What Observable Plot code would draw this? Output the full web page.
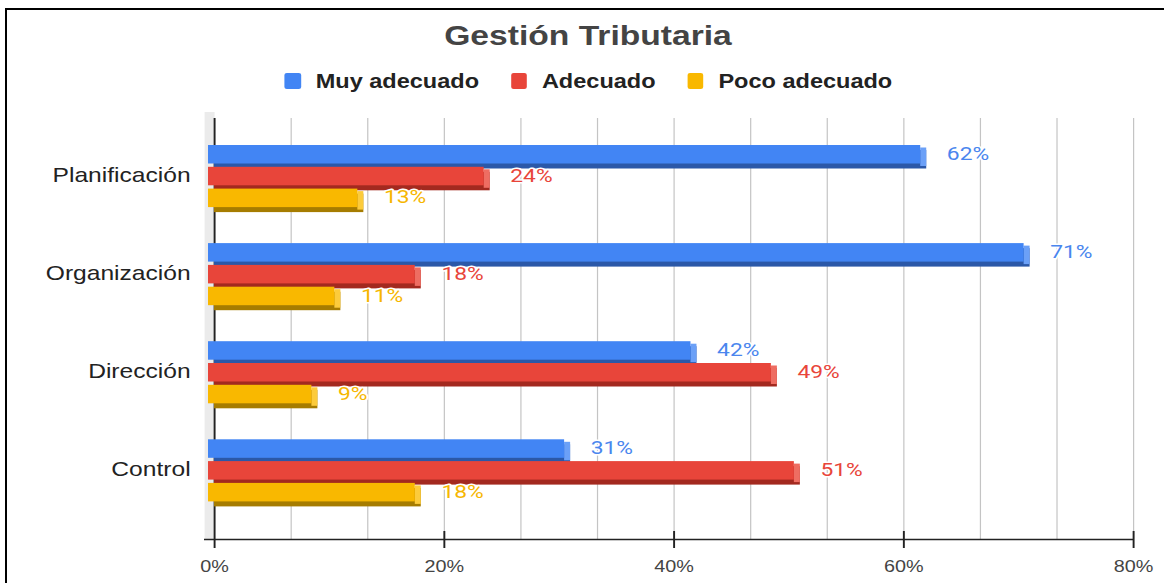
<!DOCTYPE html>
<html>
<head>
<meta charset="utf-8">
<script src="https://cdn.jsdelivr.net/npm/d3@7"></script>
<script src="https://cdn.jsdelivr.net/npm/@observablehq/plot@0.6"></script>
<style>
  html, body { margin: 0; padding: 0; background: #fff; }
  body { width: 1164px; height: 583px; overflow: hidden; position: relative; font-family: "Liberation Sans", Arial, sans-serif; }
  #frame { position: absolute; left: 5px; top: 8px; right: -10px; bottom: -10px; border-top: 2.5px solid #000; border-left: 2.5px solid #000; }
  #chart { position: absolute; left: 0; top: 0; width: 970px; height: 583px; transform: scaleX(1.2); transform-origin: 0 0; }
  #title { position: absolute; top: 22px; left: 5px; width: 100%; text-align: center; font-weight: bold; font-size: 28px; line-height: 28px; color: #444; }
  #legend { position: absolute; top: 71px; left: 5.4px; width: 100%; height: 20px; display: flex; justify-content: center; align-items: center; font-weight: bold; font-size: 19.6px; line-height: 20px; color: #222; }
  .item { display: flex; align-items: center; margin: 0 13.3px; }
  .sw { width: 13.3px; height: 16px; border-radius: 2px; margin-right: 12.5px; }
  #plot { position: absolute; top: 100px; left: 0; }
</style>
</head>
<body>
<div id="frame"></div>
<div id="chart">
  <div id="title">Gestión Tributaria</div>
  <div id="legend"></div>
  <div id="plot"></div>
</div>
<script>
// ---- data ----
const categories = ["Planificación", "Organización", "Dirección", "Control"];
const seriesNames = ["Muy adecuado", "Adecuado", "Poco adecuado"];
const muyAdecuado = [62, 71, 42, 31];
const adecuado = [24, 18, 49, 51];
const pocoAdecuado = [13, 11, 9, 18];
const xTicks = [0, 20, 40, 60, 80];
const tickLabels = ["0%", "20%", "40%", "60%", "80%"];

// ---- styles ----
const frontColors = ["#4285F4", "#E8453A", "#F9B800"];
const darkColors = ["#2B58A8", "#A3291F", "#A67C00"];
const sideColors = ["#6BA0F7", "#EE6D62", "#FCCB3B"];
const labelColors = ["#4A86EE", "#E8453A", "#F6B600"];

const seriesValues = [muyAdecuado, adecuado, pocoAdecuado];
const rows = [];
categories.forEach((c, ci) => seriesNames.forEach((s, si) => {
  rows.push({cat: c, ci, ser: s, si, v: seriesValues[si][ci], pos: ci * 4.5 + si});
}));

// ---- layout ----
const S = 1.2;                    // horizontal scale applied to the whole chart
const W = 1164 / S, H = 483;
const mL = 214 / S, mR = 31 / S, mT = 18, mB = 44;
const U = 21.8;                   // px per bar step
const y0 = -(50 - mT) / U;
const yDomain = [y0, y0 + (H - mT - mB) / U];
const kx = (W - mL - mR) / 80;    // px per percent
const BH = 18.5 / U;              // bar thickness
const DX = -6 / S, DY = -5;       // 3D offset of the front face

// legend
const legend = document.getElementById("legend");
seriesNames.forEach((s, i) => {
  const it = document.createElement("div");
  it.className = "item";
  it.innerHTML = `<span class="sw" style="background:${frontColors[i]}"></span><span>${s}</span>`;
  legend.appendChild(it);
});

const grid = d3.range(1, 13).map(i => i * 80 / 12);
const marks = [];
// back wall strip
marks.push(Plot.ruleX([0], {y1: yDomain[0] - 6 / U, y2: yDomain[1] + 1 / U, stroke: "#ebebeb", strokeWidth: 10 / S, dx: -5 / S}));
// grid lines
marks.push(Plot.ruleX(grid, {stroke: "#c4c4c4", strokeWidth: 1}));
// zero axis (behind bars)
marks.push(Plot.ruleX([0], {y1: yDomain[0], y2: yDomain[1] + 9 / U, stroke: "#222", strokeWidth: 1.6}));
// bar faces: dark (bottom), side, front
seriesNames.forEach((s, si) => {
  marks.push(Plot.rect(rows.filter(d => d.si === si), {
    x1: 0, x2: "v", y1: "pos", y2: d => d.pos + BH, fill: darkColors[si]
  }));
});
seriesNames.forEach((s, si) => {
  marks.push(Plot.rect(rows.filter(d => d.si === si), {
    x1: d => d.v + DX / kx, x2: "v", y1: d => d.pos, y2: d => d.pos + BH, dy: -2.5, fill: sideColors[si]
  }));
});
seriesNames.forEach((s, si) => {
  marks.push(Plot.rect(rows.filter(d => d.si === si), {
    x1: 0, x2: "v", y1: "pos", y2: d => d.pos + BH, dx: DX, dy: DY, fill: frontColors[si]
  }));
});
// bottom axis
marks.push(Plot.ruleY([yDomain[1]], {x1: -10 / S / kx, x2: 80, stroke: "#222", strokeWidth: 1.5}));
marks.push(Plot.ruleX(xTicks.slice(1), {y1: yDomain[1] - 8 / U, y2: yDomain[1] + 9 / U, stroke: "#222", strokeWidth: 1.6}));
marks.push(Plot.text(xTicks, {x: d => d, y: () => yDomain[1], text: (d, i) => tickLabels[i], dy: 27, fontSize: 16.5, fill: "#444"}));
// category labels
marks.push(Plot.text(categories, {x: () => 0, y: (d, i) => i * 4.5 + (2 + BH) / 2, text: d => d, dx: -24 / S, dy: -6, textAnchor: "end", fontSize: 20.5, fill: "#222"}));
// value labels
seriesNames.forEach((s, si) => {
  marks.push(Plot.text(rows.filter(d => d.si === si), {
    x: "v", y: d => d.pos + BH / 2, text: d => d.v + "%", dx: 20 / S, dy: -6, textAnchor: "start",
    fill: labelColors[si], stroke: "white", strokeWidth: 3, paintOrder: "stroke", fontSize: 19, fontFamily: "Roboto"
  }));
});

const chart = Plot.plot({
  width: W, height: H,
  marginLeft: mL, marginRight: mR, marginTop: mT, marginBottom: mB,
  x: {domain: [0, 80], axis: null},
  y: {domain: yDomain, range: [mT, H - mB], axis: null},
  style: {fontFamily: "'Liberation Sans', Arial, sans-serif", background: "transparent", overflow: "visible"},
  marks
});
document.getElementById("plot").appendChild(chart);
</script>
</body>
</html>
